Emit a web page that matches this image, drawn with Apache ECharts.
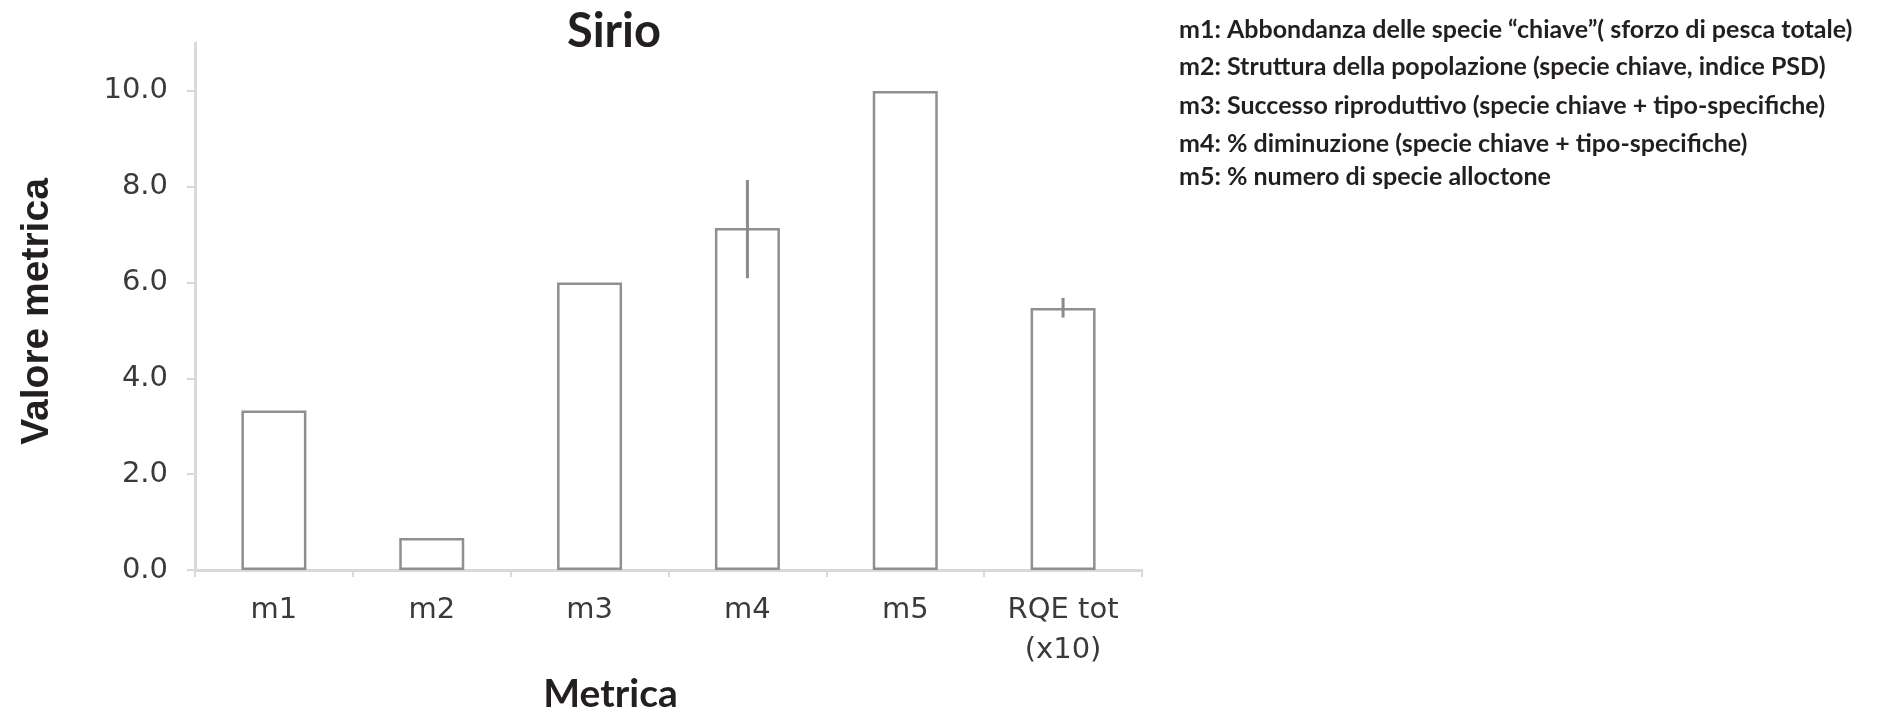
<!DOCTYPE html>
<html>
<head>
<meta charset="utf-8">
<script src="https://cdn.jsdelivr.net/npm/echarts@6/dist/echarts.min.js"></script>
<style>
html,body{margin:0;padding:0;background:#fff;}
#chart{width:1879px;height:709px;}
</style>
</head>
<body>
<div id="chart"></div>
<script>
const categories = ['m1', 'm2', 'm3', 'm4', 'm5', 'RQE tot\n(x10)'];
const values = [3.33, 0.67, 6.0, 7.14, 10.0, 5.47];
const errLow = [null, null, null, 6.09, null, 5.27];
const errHigh = [null, null, null, 8.14, null, 5.68];
const yTicks = [0, 2, 4, 6, 8, 10];
const legendLines = [
  'm1: Abbondanza delle specie \u201cchiave\u201d( sforzo di pesca totale)',
  'm2: Struttura della popolazione (specie chiave, indice PSD)',
  'm3: Successo riproduttivo (specie chiave + tipo-specifiche)',
  'm4: % diminuzione (specie chiave + tipo-specifiche)',
  'm5: % numero di specie alloctone'
];
const titleText = 'Sirio';
const xName = 'Metrica';
const yName = 'Valore metrica';

const errData = [];
categories.forEach((c, i) => {
  if (errLow[i] != null) errData.push([i, errLow[i], errHigh[i]]);
});

const legendY = [29, 66, 105, 143, 176];
const chart = echarts.init(document.getElementById('chart'), null, {renderer: 'canvas'});
chart.setOption({
  backgroundColor: '#ffffff',
  animation: false,
  title: {
    text: titleText,
    left: 609, top: 3,
    textAlign: 'center',
    textStyle: {fontFamily: 'Lato', fontWeight: 'bold', fontSize: 47, color: '#231f20'}
  },
  grid: {left: 195, right: 737, top: 43, bottom: 139, containLabel: false, outerBoundsMode: 'none'},
  xAxis: {
    type: 'category',
    data: categories,
    boundaryGap: true,
    name: xName,
    nameLocation: 'middle',
    nameGap: 101,
    nameTextStyle: {fontFamily: 'Lato', fontWeight: 'bold', fontSize: 39, color: '#231f20', padding: [0, 116, 0, 0]},
    axisLine: {show: true, lineStyle: {color: '#d9d9d9', width: 3}},
    axisTick: {show: true, length: 7, alignWithLabel: false, lineStyle: {color: '#d9d9d9', width: 2}},
    axisLabel: {
      interval: 0, margin: 20,
      fontFamily: 'DejaVu Sans', fontSize: 29, color: '#3a3a3a', lineHeight: 40
    },
    splitLine: {show: false}
  },
  yAxis: {
    type: 'value',
    min: 0, max: 11,
    name: yName,
    nameLocation: 'middle',
    nameGap: 138,
    nameRotate: 90,
    nameTextStyle: {fontFamily: 'Liberation Sans, Arial', fontWeight: 'bold', fontSize: 39, color: '#231f20', padding: [0, 10, 0, 0]},
    axisLine: {show: true, lineStyle: {color: '#d9d9d9', width: 3}},
    axisTick: {show: true, length: 8, customValues: yTicks, lineStyle: {color: '#d9d9d9', width: 2}},
    axisLabel: {
      customValues: yTicks,
      margin: 27,
      formatter: v => Number(v).toFixed(1),
      fontFamily: 'DejaVu Sans', fontSize: 29, color: '#3a3a3a'
    },
    splitLine: {show: false}
  },
  series: [
    {
      type: 'bar',
      data: values,
      barWidth: 65,
      itemStyle: {color: '#ffffff', borderColor: '#8f8f8f', borderWidth: 2.5},
      silent: true
    },
    {
      type: 'custom',
      data: errData,
      encode: {x: 0, y: [1, 2]},
      renderItem: function (params, api) {
        const i = api.value(0);
        const p1 = api.coord([i, api.value(1)]);
        const p2 = api.coord([i, api.value(2)]);
        return {
          type: 'line',
          shape: {x1: p1[0], y1: p1[1], x2: p2[0], y2: p2[1]},
          style: {stroke: '#8a8a8a', lineWidth: 3}
        };
      },
      z: 5
    }
  ],
  graphic: legendLines.map((t, k) => ({
    type: 'text',
    left: 1179,
    top: legendY[k] - 12,
    style: {text: t, fontFamily: 'Lato', fontWeight: 'bold', fontSize: 25, fill: '#231f20'}
  }))
});
</script>
</body>
</html>
